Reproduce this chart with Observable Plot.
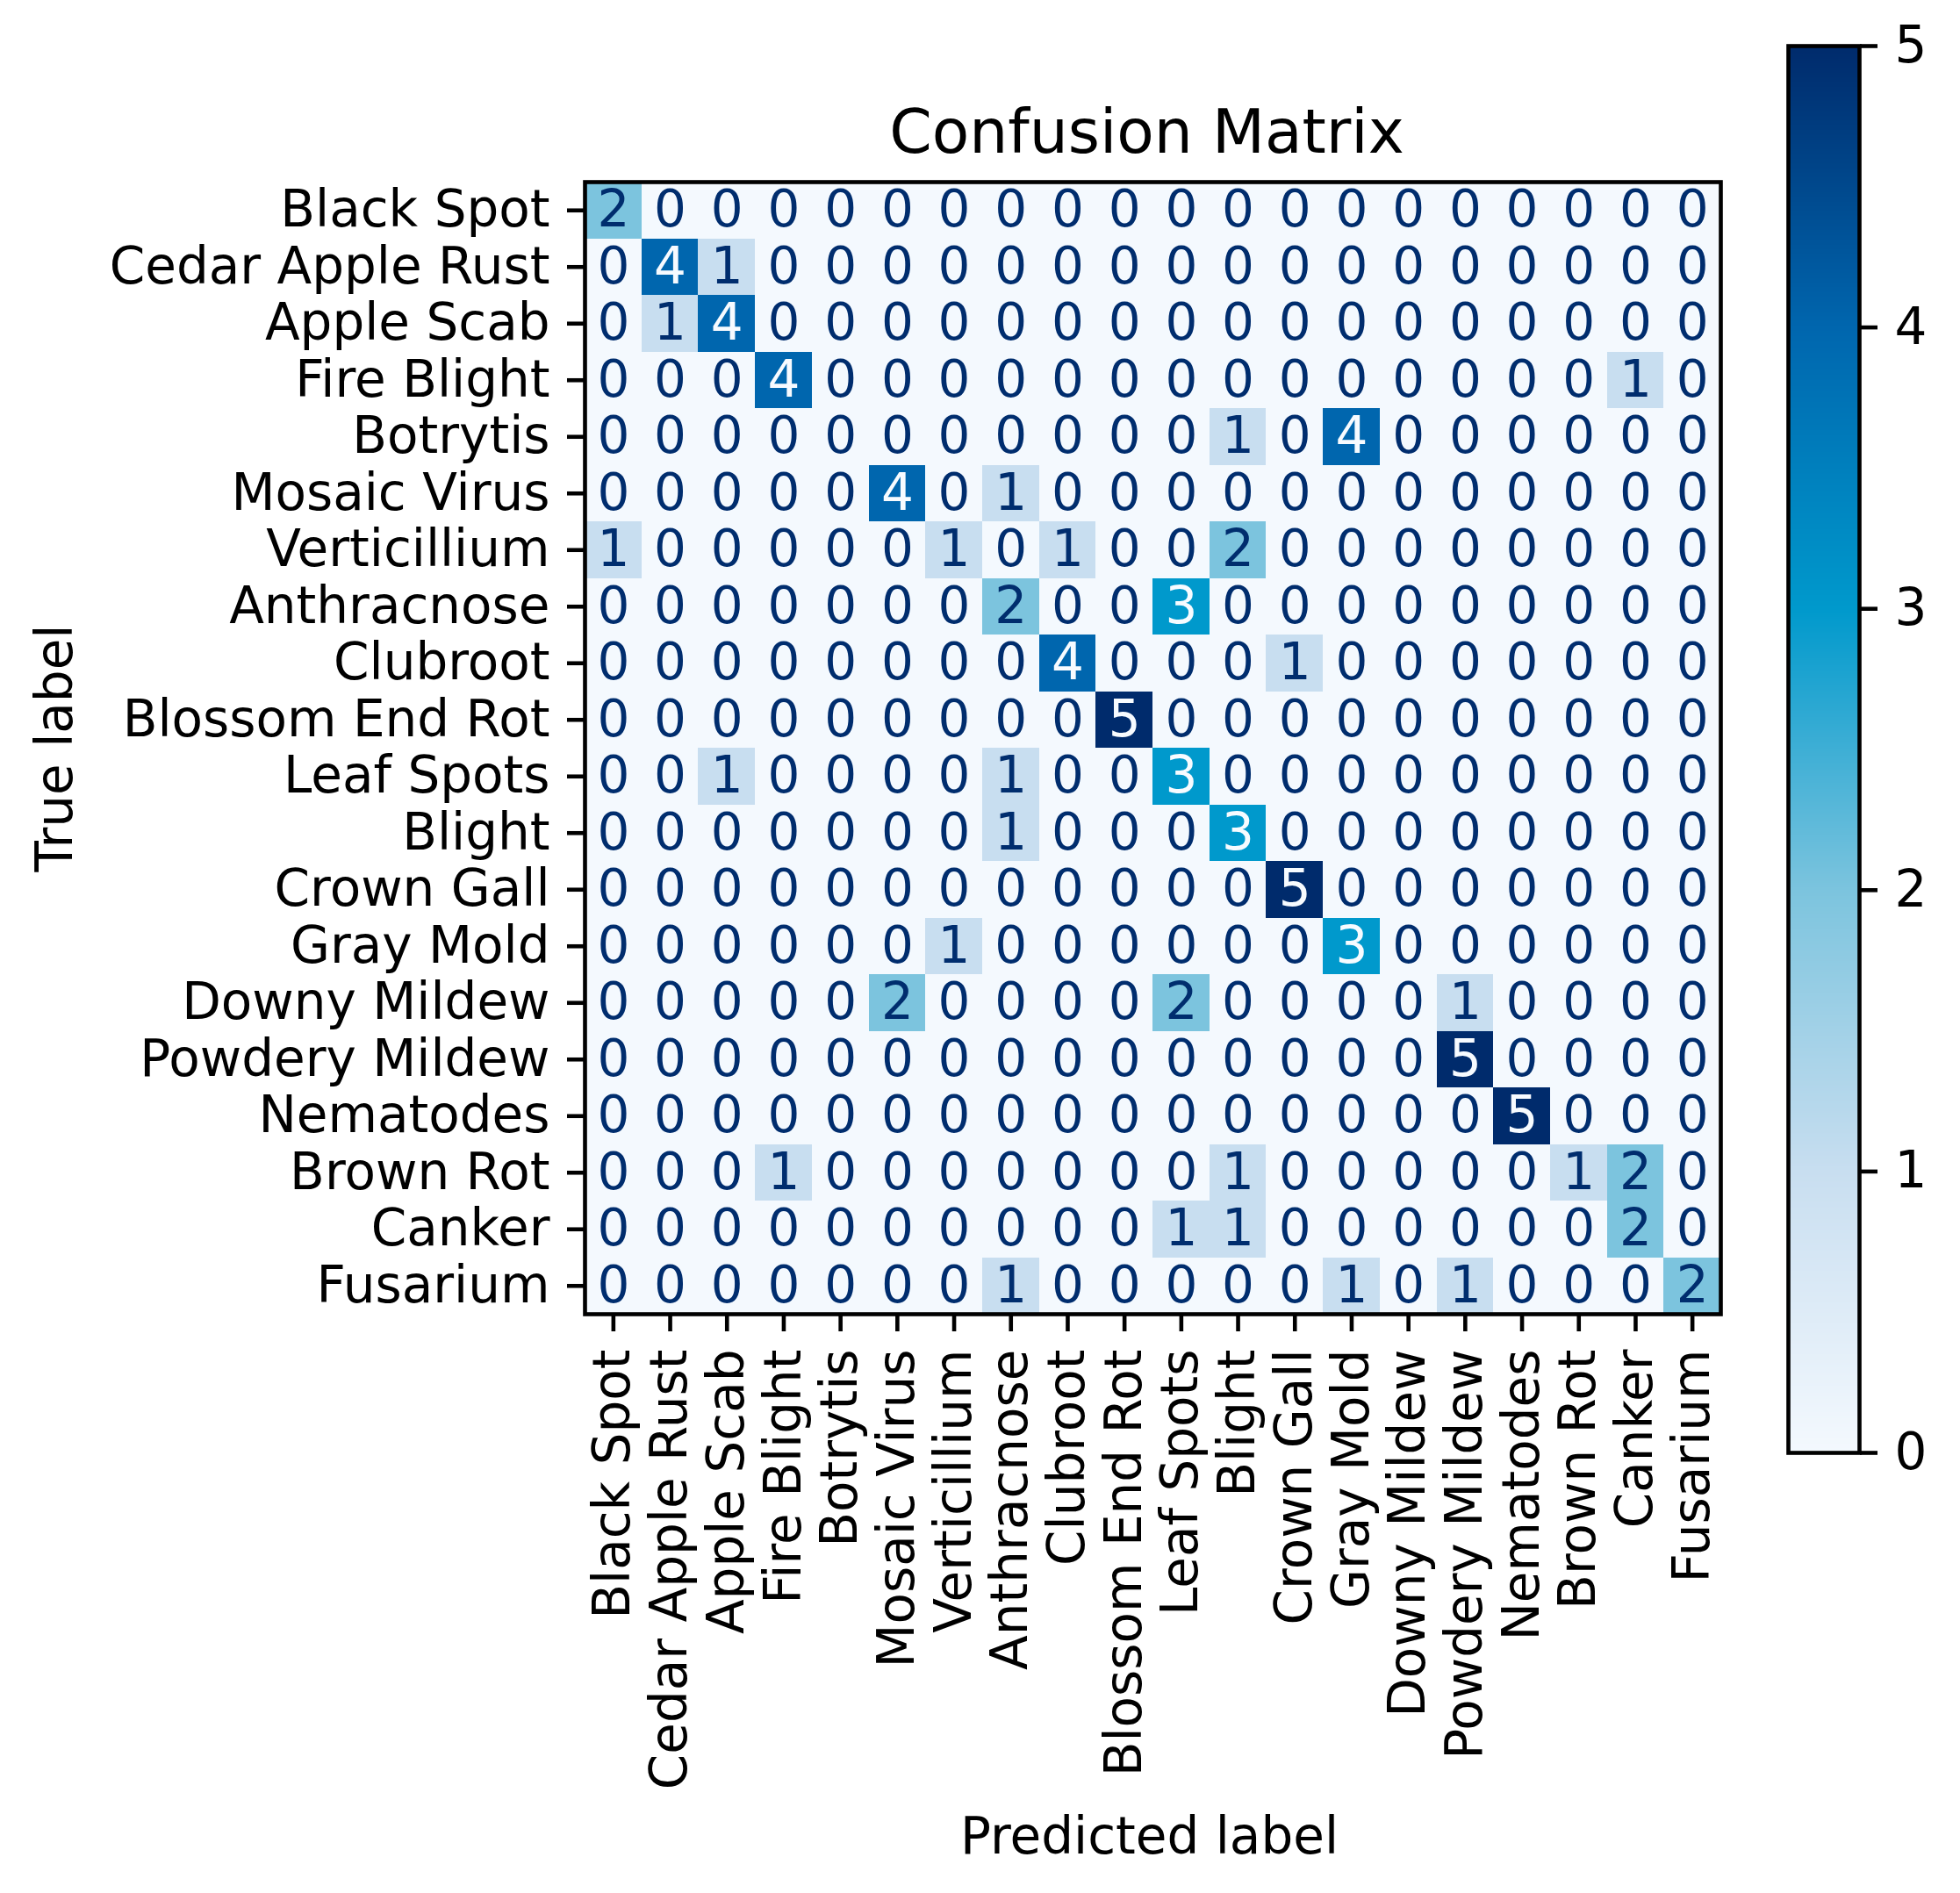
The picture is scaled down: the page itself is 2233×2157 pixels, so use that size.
<!DOCTYPE html>
<html><head><meta charset="utf-8">
<script src="https://cdn.jsdelivr.net/npm/d3@7"></script>
<script src="https://cdn.jsdelivr.net/npm/@observablehq/plot@0.6"></script>
<style>
html,body{margin:0;padding:0;background:#fff;}
#chart{position:relative;width:2233px;height:2157px;font-family:"DejaVu Sans";}
#chart svg{position:absolute;top:0;}
</style></head><body><div id="chart"></div>
<script>
const classes = ["Black Spot","Cedar Apple Rust","Apple Scab","Fire Blight","Botrytis","Mosaic Virus","Verticillium","Anthracnose","Clubroot","Blossom End Rot","Leaf Spots","Blight","Crown Gall","Gray Mold","Downy Mildew","Powdery Mildew","Nematodes","Brown Rot","Canker","Fusarium"];
const counts = [
  [2,0,0,0,0,0,0,0,0,0,0,0,0,0,0,0,0,0,0,0],
  [0,4,1,0,0,0,0,0,0,0,0,0,0,0,0,0,0,0,0,0],
  [0,1,4,0,0,0,0,0,0,0,0,0,0,0,0,0,0,0,0,0],
  [0,0,0,4,0,0,0,0,0,0,0,0,0,0,0,0,0,0,1,0],
  [0,0,0,0,0,0,0,0,0,0,0,1,0,4,0,0,0,0,0,0],
  [0,0,0,0,0,4,0,1,0,0,0,0,0,0,0,0,0,0,0,0],
  [1,0,0,0,0,0,1,0,1,0,0,2,0,0,0,0,0,0,0,0],
  [0,0,0,0,0,0,0,2,0,0,3,0,0,0,0,0,0,0,0,0],
  [0,0,0,0,0,0,0,0,4,0,0,0,1,0,0,0,0,0,0,0],
  [0,0,0,0,0,0,0,0,0,5,0,0,0,0,0,0,0,0,0,0],
  [0,0,1,0,0,0,0,1,0,0,3,0,0,0,0,0,0,0,0,0],
  [0,0,0,0,0,0,0,1,0,0,0,3,0,0,0,0,0,0,0,0],
  [0,0,0,0,0,0,0,0,0,0,0,0,5,0,0,0,0,0,0,0],
  [0,0,0,0,0,0,1,0,0,0,0,0,0,3,0,0,0,0,0,0],
  [0,0,0,0,0,2,0,0,0,0,2,0,0,0,0,1,0,0,0,0],
  [0,0,0,0,0,0,0,0,0,0,0,0,0,0,0,5,0,0,0,0],
  [0,0,0,0,0,0,0,0,0,0,0,0,0,0,0,0,5,0,0,0],
  [0,0,0,1,0,0,0,0,0,0,0,1,0,0,0,0,0,1,2,0],
  [0,0,0,0,0,0,0,0,0,0,1,1,0,0,0,0,0,0,2,0],
  [0,0,0,0,0,0,0,1,0,0,0,0,0,1,0,1,0,0,0,2]
];
const colorTicks = [0,1,2,3,4,5];
const colorStops = ["#f4f9fe","#c8def0","#7cc4de","#0099cc","#0066ae","#002b6c"];
const darkText = "#002d6e";
const lightText = "#f7fbff";

const cells = classes.flatMap((t, i) => classes.map((p, j) => ({truth: t, pred: p, count: counts[i][j]})));
const colorScale = {type: "linear", domain: colorTicks, range: colorStops, interpolate: "rgb"};
const style = {fontFamily: "DejaVu Sans", fontSize: "58px", color: "black", background: "transparent", overflow: "visible"};

const main = Plot.plot({
  width: 2000, height: 2157,
  marginLeft: 666, marginRight: 40, marginTop: 207, marginBottom: 660,
  style,
  x: {type: "band", domain: classes, padding: 0, round: false, label: null},
  y: {type: "band", domain: classes, padding: 0, round: false, label: null},
  color: colorScale,
  marks: [
    Plot.cell(cells, {x: "pred", y: "truth", fill: "count", inset: 0, shapeRendering: "crispEdges"}),
    Plot.text(cells, {filter: d => d.count <= 2.5, x: "pred", y: "truth", text: d => String(d.count), fill: darkText, fontSize: 58}),
    Plot.text(cells, {filter: d => d.count > 2.5, x: "pred", y: "truth", text: d => String(d.count), fill: lightText, fontSize: 58}),
    Plot.frame({stroke: "black", strokeWidth: 4.6}),
    Plot.axisX({anchor: "bottom", tickSize: 20, tickPadding: 20, tickRotate: -90, strokeWidth: 4.6, fontSize: 58, label: null}),
    Plot.axisY({anchor: "left", tickSize: 20, tickPadding: 20, strokeWidth: 4.6, fontSize: 58, label: null}),
    Plot.text(["Confusion Matrix"], {frameAnchor: "top", dx: -7, dy: -34, lineAnchor: "bottom", textAnchor: "middle", fontSize: 69.5, fill: "black"}),
    Plot.text(["Predicted label"], {frameAnchor: "bottom", dx: -4, dy: 614, lineAnchor: "bottom", textAnchor: "middle", fontSize: 58, fill: "black"}),
    Plot.text(["True label"], {frameAnchor: "left", dx: -585, rotate: -90, lineAnchor: "bottom", textAnchor: "middle", fontSize: 58, fill: "black"})
  ]
});
main.style.left = "0px";

const bar = Plot.plot({
  width: 233, height: 2157,
  marginLeft: 37, marginRight: 115, marginTop: 52, marginBottom: 502,
  style,
  x: {domain: [0, 1], axis: null},
  y: {domain: [0, 5], label: null},
  color: colorScale,
  marks: [
    Plot.raster({fill: (x, y) => y, x1: 0, x2: 1, y1: 0, y2: 5, imageRendering: "auto"}),
    Plot.frame({stroke: "black", strokeWidth: 4.6}),
    Plot.axisY({anchor: "right", ticks: colorTicks, tickFormat: d => String(d), tickSize: 20, tickPadding: 20, strokeWidth: 4.6, fontSize: 58, label: null})
  ]
});
bar.style.left = "2000px";

const root = document.getElementById("chart");
root.appendChild(main);
root.appendChild(bar);
</script>
</body></html>
